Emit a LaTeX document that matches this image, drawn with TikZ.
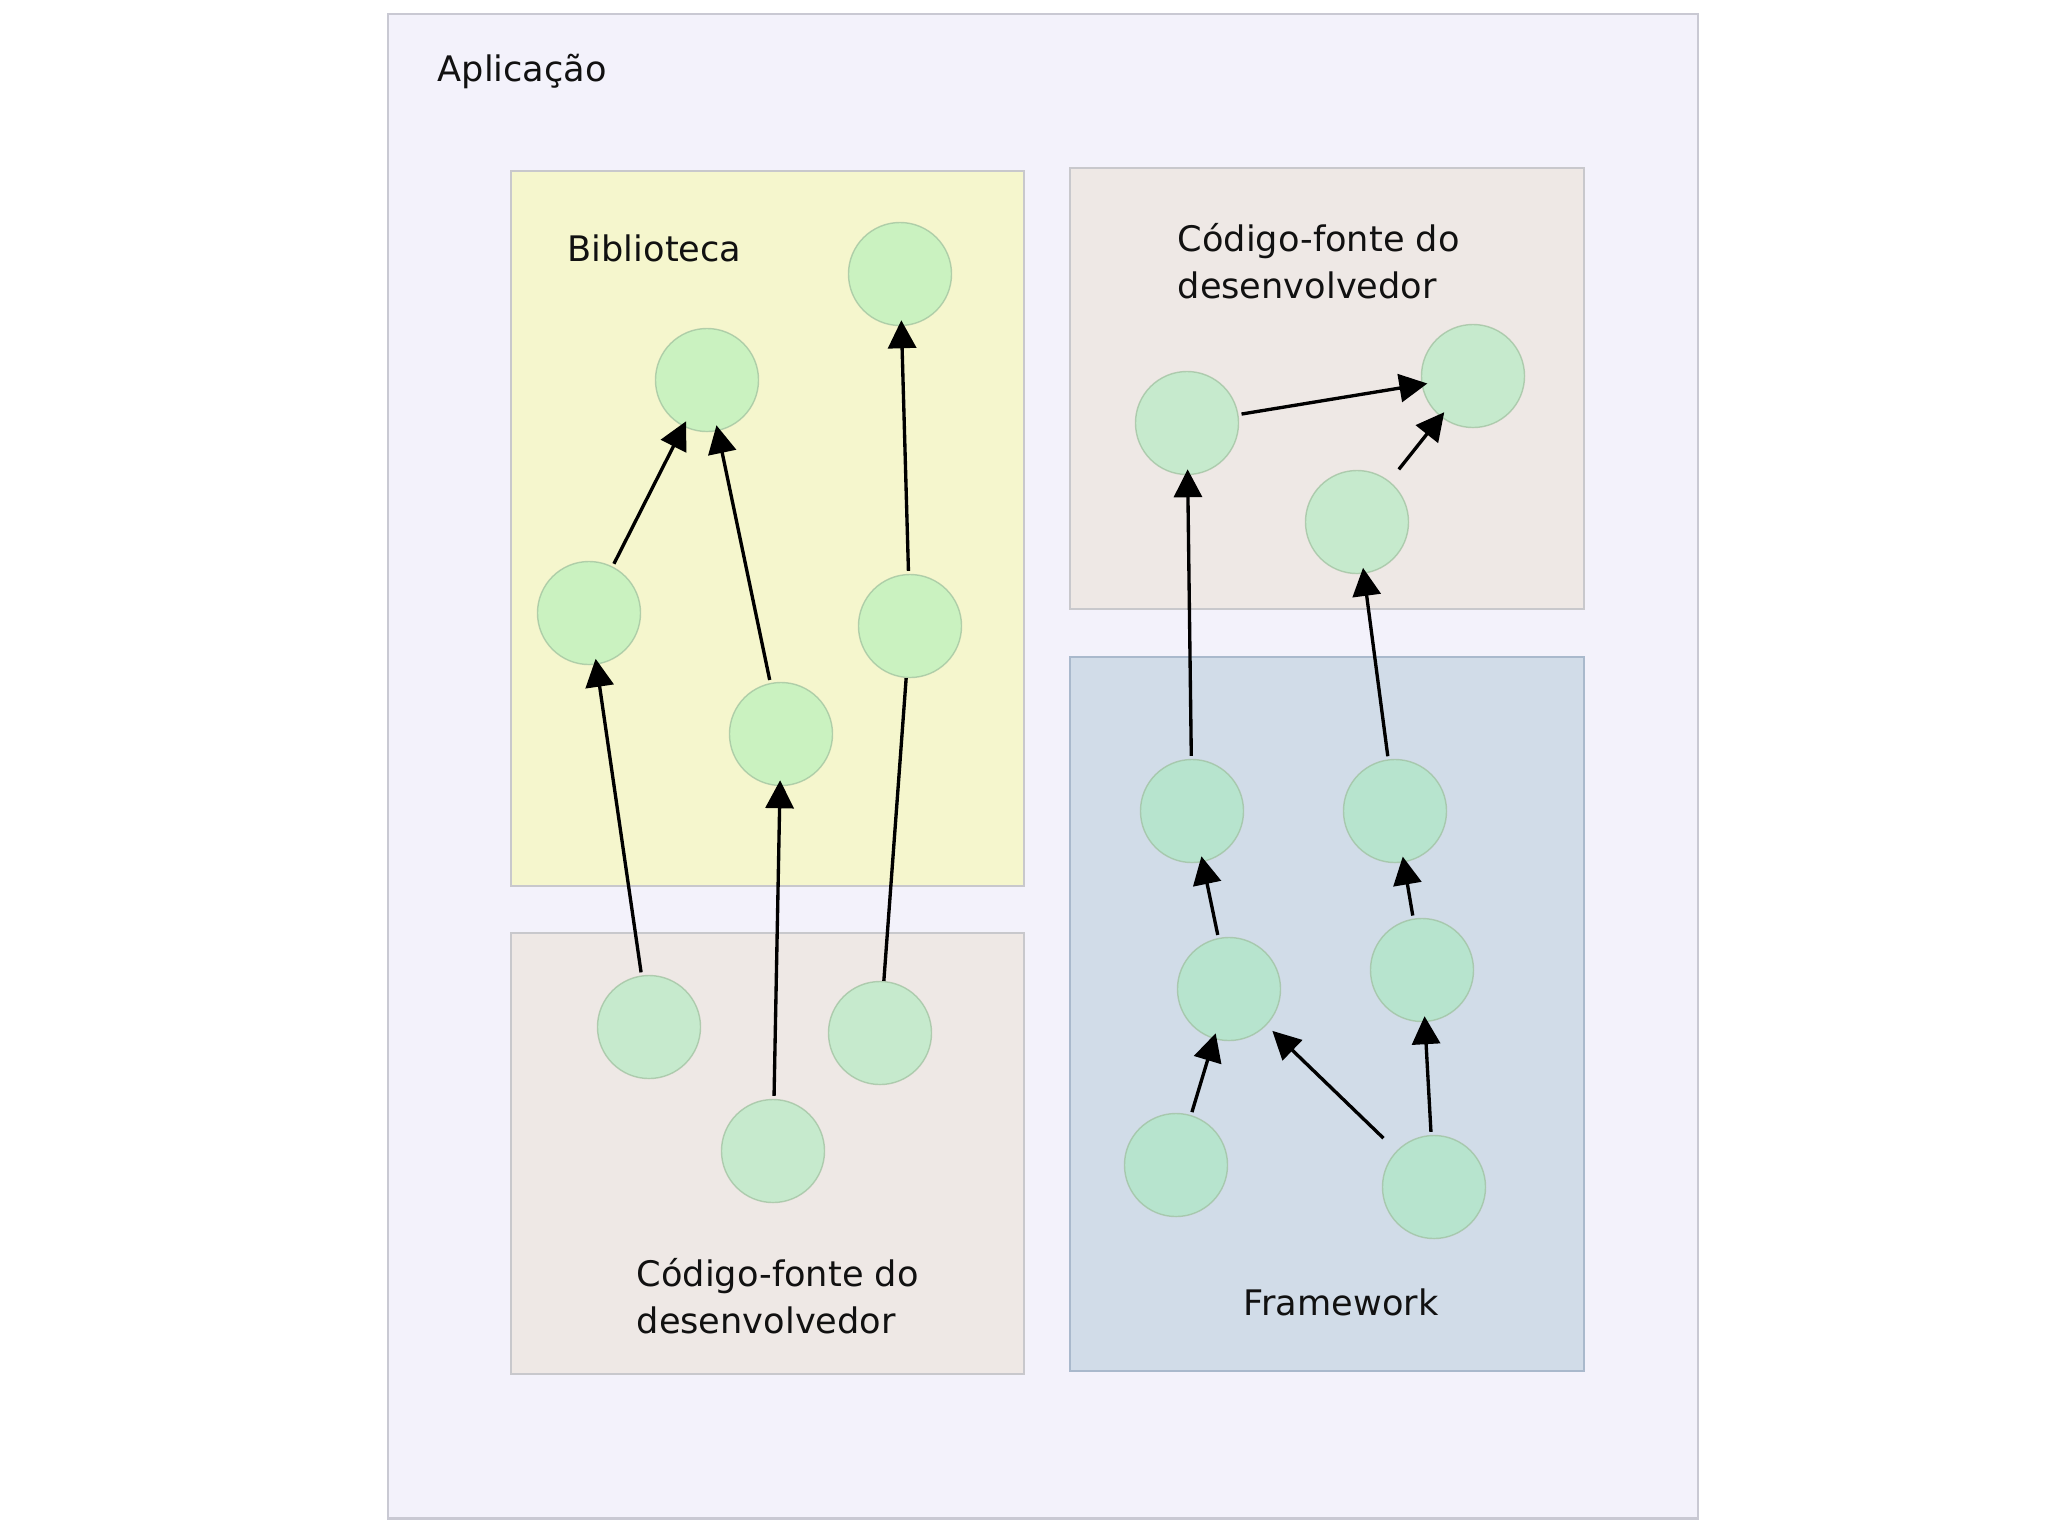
\documentclass[tikz,border=0pt]{standalone}
\usepackage{fontspec}
\setmainfont{DejaVu Sans}
\usetikzlibrary{arrows.meta}
\definecolor{AppFill}{HTML}{F3F2FB}
\definecolor{AppFrame}{HTML}{C9C9D3}
\definecolor{LibFill}{HTML}{F5F6CD}
\definecolor{DevFill}{HTML}{EEE8E5}
\definecolor{FwFill}{HTML}{D1DCE8}
\definecolor{FwFrame}{HTML}{A9B9CC}
\definecolor{BoxFrame}{HTML}{C8C8CC}
\definecolor{CompGreen}{HTML}{9BEEB2}
\definecolor{CompFrame}{HTML}{9DBF9D}
\definecolor{TextInk}{HTML}{111111}
\tikzset{
  region/.style={draw=BoxFrame, line width=0.6pt, rectangle, inner sep=0pt, outer sep=0pt},
  appbox/.style={region, fill=AppFill, draw=AppFrame},
  libbox/.style={region, fill=LibFill},
  devbox/.style={region, fill=DevFill},
  fwbox/.style={region, fill=FwFill, draw=FwFrame},
  comp/.style={circle, minimum size=1.03cm, inner sep=0pt, fill=CompGreen,
               fill opacity=0.47, draw=CompFrame, draw opacity=0.7, line width=0.4pt},
  boxlabel/.style={font=\fontsize{10pt}{13.2pt}\selectfont, text=TextInk,
                   inner sep=0pt, align=left},
  dep/.style={-{Triangle[length=0.28cm, width=0.28cm]}, line width=0.95pt,
              shorten >=-0.06cm, shorten <=0.03cm},
  link/.style={line width=0.95pt}
}

\begin{document}
\begin{tikzpicture}[x=0.01cm, y=-0.01cm]
  \useasboundingbox (0,0) rectangle (2048,1535);

  % regions
  \node[appbox, minimum width=13.10cm, minimum height=15.04cm] (app) at (1043,766) {};
  \node[libbox, minimum width=5.13cm, minimum height=7.15cm] (lib) at (767.5,528.5) {};
  \node[devbox, minimum width=5.13cm, minimum height=4.41cm] (devlow) at (767.5,1153.5) {};
  \node[devbox, minimum width=5.14cm, minimum height=4.41cm] (devtop) at (1327,388.5) {};
  \node[fwbox, minimum width=5.14cm, minimum height=7.14cm] (fw) at (1327,1014) {};

  % labels
  \node[boxlabel, anchor=base west] (applabel) at (437,81) {Aplicação};
  \node[boxlabel, anchor=base west] (liblabel) at (567,261) {Biblioteca};
  \node[boxlabel, anchor=north west] (devtoplabel) at (1177,223) {Código-fonte do\\desenvolvedor};
  \node[boxlabel, anchor=north west] (devlowlabel) at (636,1258) {Código-fonte do\\desenvolvedor};
  \node[boxlabel, anchor=base west] (fwlabel) at (1243,1315) {Framework};

  % biblioteca
  \node[comp] (b1) at (900,274) {};
  \node[comp] (b2) at (707,380) {};
  \node[comp] (b3) at (589,613) {};
  \node[comp] (b4) at (781,734) {};
  \node[comp] (b5) at (910,626) {};
  % codigo do desenvolvedor (baixo)
  \node[comp] (c1) at (649,1027) {};
  \node[comp] (c2) at (773,1151) {};
  \node[comp] (c3) at (880,1033) {};
  % codigo do desenvolvedor (cima)
  \node[comp] (d1) at (1187,423) {};
  \node[comp] (d2) at (1473,376) {};
  \node[comp] (d3) at (1357,522) {};
  % framework
  \node[comp] (f1) at (1192,811) {};
  \node[comp] (f2) at (1395,811) {};
  \node[comp] (f3) at (1229,989) {};
  \node[comp] (f4) at (1422,970) {};
  \node[comp] (f5) at (1176,1165) {};
  \node[comp] (f6) at (1434,1187) {};

  % dependencias
  \draw[dep] (c1) -- (b3);
  \draw[dep] (b3) -- (b2);
  \draw[dep] (b4) -- (b2);
  \draw[dep] (c2) -- (b4);
  \draw[link] (c3) -- (b5);
  \draw[dep] (b5) -- (b1);
  \draw[dep] (f1) -- (d1);
  \draw[dep] (d1) -- (d2);
  \draw[dep, shorten <=0.15cm] (d3) -- (d2);
  \draw[dep] (f2) -- (d3);
  \draw[dep] (f3) -- (f1);
  \draw[dep] (f4) -- (f2);
  \draw[dep] (f5) -- (f3);
  \draw[dep, shorten <=0.18cm, shorten >=0.08cm] (f6) -- (f3);
  \draw[dep] (f6) -- (f4);
\end{tikzpicture}
\end{document}
